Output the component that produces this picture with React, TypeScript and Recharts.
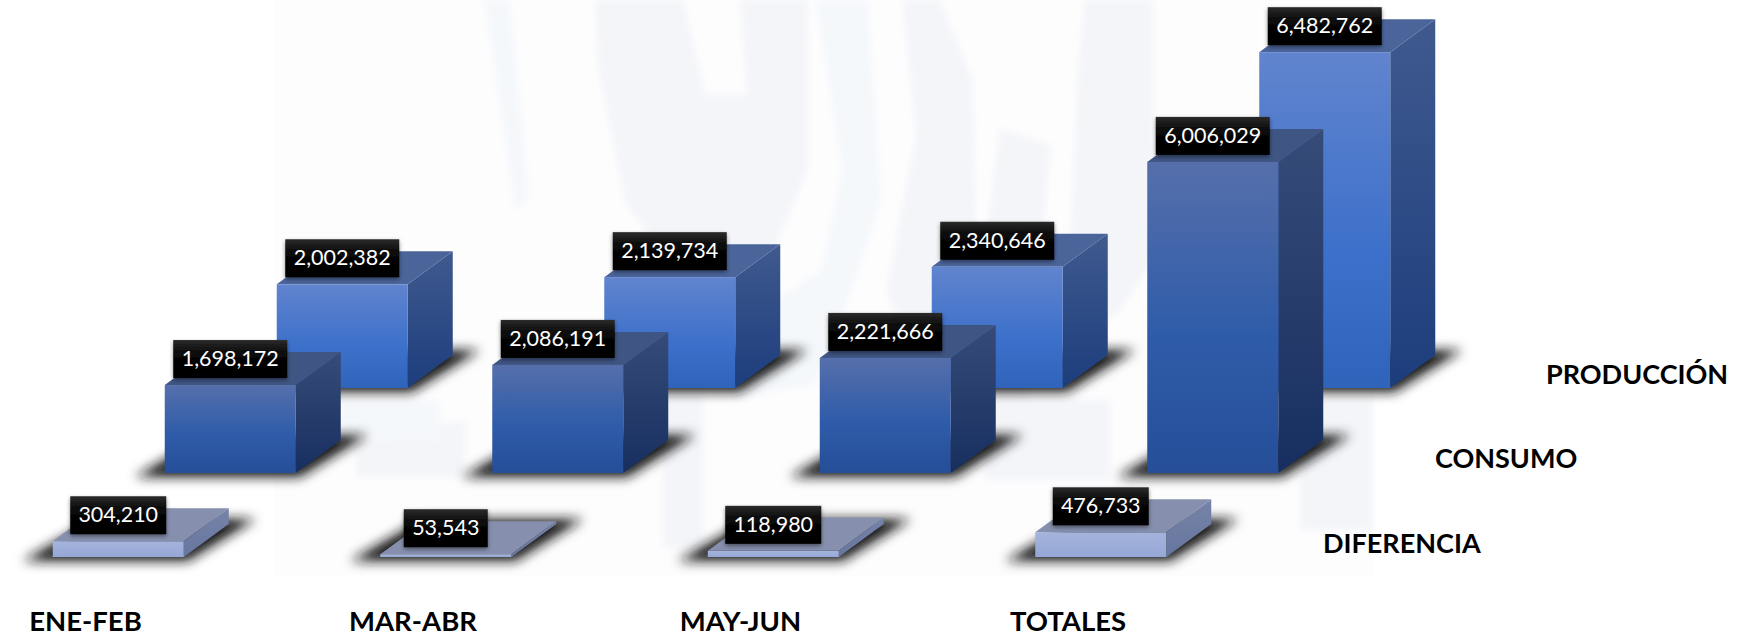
import { BarChart, Bar, XAxis, YAxis, LabelList } from "recharts";

const categories = ["ENE-FEB", "MAR-ABR", "MAY-JUN", "TOTALES"];
const produccion = [2002382, 2139734, 2340646, 6482762];
const consumo = [1698172, 2086191, 2221666, 6006029];
const diferencia = [304210, 53543, 118980, 476733];

const data = categories.map((name, i) => ({
  name,
  produccion: produccion[i],
  consumo: consumo[i],
  diferencia: diferencia[i],
}));

// page is cut at x=0, the chart starts further left so the first row fits
const SHIFT = 60;
const WIDTH = 1747 + SHIFT;
const HEIGHT = 637;
const PLOT_BOTTOM = HEIGHT - 1;
const PX_PER_UNIT = 5.18e-5;
const DEPTH_X = 45;
const DEPTH_Y = 33;
const FONT = "Lato, Carlito, Calibri, sans-serif";

const rows = [
  {
    key: "produccion",
    label: "PRODUCCIÓN",
    base: 388,
    padding: { left: 238.75, right: 258.25 },
    labelX: 1546,
    labelY: 384,
    front: [["0%", "#6184ce"], ["60%", "#3c70ca"], ["100%", "#3064bb"]],
    side: ["#405a8f", "#1c3d7c"],
    top: "#4b659b",
  },
  {
    key: "consumo",
    label: "CONSUMO",
    base: 473,
    padding: { left: 126.75, right: 370.25 },
    labelX: 1435,
    labelY: 468,
    front: [["0%", "#566fab"], ["55%", "#2f5ca9"], ["100%", "#264e99"]],
    side: ["#364b78", "#172f60"],
    top: "#3f5583",
  },
  {
    key: "diferencia",
    label: "DIFERENCIA",
    base: 557,
    padding: { left: 14.75, right: 482.25 },
    labelX: 1323,
    labelY: 553,
    front: [["0%", "#a5b4dc"], ["100%", "#95a7d6"]],
    side: ["#7683a8", "#67769f"],
    top: "#8690ae",
  },
];

// the faint logo behind the chart
function Watermark() {
  return (
    <svg width={1747} height={637} style={{ position: "absolute", left: 0, top: 0 }}>
      <defs>
        <filter id="logoBlur">
          <feGaussianBlur stdDeviation="3" />
        </filter>
      </defs>
      <rect x={274} y={0} width={1100} height={577} fill="#fdfdfe" />
      <g fill="#f4f5f9" filter="url(#logoBlur)">
        <path d="M595 0 L683 0 L706 95 L747 95 L740 0 L808 0 L808 169 L774 250 L713 277 L666 257 L625 203 L598 68 Z" />
        <path d="M902 0 L940 0 L973 81 L977 270 L936 368 L909 345 L886 291 L916 135 Z" />
        <path d="M1000 128 L1051 145 L1028 399 L963 399 L990 203 Z" />
        <path d="M1085 0 L1153 0 L1153 149 L1180 223 L1119 311 L1065 358 L1078 68 Z" />
        <path d="M663 393 L703 393 L703 547 L663 547 Z" />
        <path d="M356 440 L465 420 L465 477 L356 477 Z" />
        <path d="M1300 400 L1372 400 L1372 530 L1300 530 Z" />
        <path d="M985 400 L1110 400 L1110 480 L985 480 Z" />
      </g>
      <g fill="#f5f8fb" filter="url(#logoBlur)">
        <path d="M484 0 L510 0 L530 200 L515 210 Z" />
        <path d="M815 0 L868 0 L882 200 L835 340 L815 385 L735 399 L714 340 L821 270 L842 169 Z" />
        <path d="M340 400 L440 400 L440 440 L340 440 Z" />
      </g>
    </svg>
  );
}

function Box3D(props: any) {
  const { x, y, width, height, rowKey, top, base } = props;
  const r = x + width;
  const b = y + height;
  const shadow = `${x - 30},${base + 4} ${r + 4},${base + 4} ${r + 72},${base - 38} ${x + 43},${base - 38}`;
  return (
    <g>
      <polygon points={shadow} fill="#141414" filter="url(#groundBlur)" />
      <polygon
        points={`${r},${y} ${r + DEPTH_X},${y - DEPTH_Y} ${r + DEPTH_X},${b - DEPTH_Y} ${r},${b}`}
        fill={`url(#side-${rowKey})`}
      />
      <polygon
        points={`${x},${y} ${x + DEPTH_X},${y - DEPTH_Y} ${r + DEPTH_X},${y - DEPTH_Y} ${r},${y}`}
        fill={top}
      />
      <rect x={x} y={y} width={width} height={height} fill={`url(#front-${rowKey})`} />
    </g>
  );
}

function ValueTag(props: any) {
  const { x, y, width, value } = props;
  const text = Number(value).toLocaleString("en-US");
  const w = text.length >= 9 ? 114 : text.length === 7 ? 96 : 84;
  const cx = x + width / 2;
  return (
    <g>
      <rect
        x={cx - w / 2}
        y={y - 45}
        width={w}
        height={38}
        fill="url(#tagFill)"
        filter="url(#tagShadow)"
      />
      <text
        x={cx}
        y={y - 19}
        textAnchor="middle"
        fill="#fff"
        fontFamily={FONT}
        fontSize={21.5}
      >
        {text}
      </text>
    </g>
  );
}

function CategoryTick(props: any) {
  const { x, payload } = props;
  return (
    <text
      x={x - 33}
      y={631}
      textAnchor="middle"
      fill="#000"
      fontFamily={FONT}
      fontWeight={700}
      fontSize={27.5}
    >
      {payload.value}
    </text>
  );
}

export default function App() {
  return (
    <div>
      <Watermark />
      <div style={{ position: "absolute", left: -SHIFT, top: 0 }}>
        <BarChart
          width={WIDTH}
          height={HEIGHT}
          data={data}
          margin={{ top: 0, right: 0, bottom: 0, left: 0 }}
          barCategoryGap={0}
        >
          <defs>
            <filter id="groundBlur" x="-30%" y="-80%" width="160%" height="260%">
              <feGaussianBlur stdDeviation="6" />
            </filter>
            <filter id="tagShadow" x="-10%" y="-20%" width="120%" height="150%">
              <feDropShadow dx="0" dy="2" stdDeviation="2" floodColor="#000" floodOpacity="0.45" />
            </filter>
            <linearGradient id="tagFill" x1="0" y1="0" x2="0" y2="1">
              <stop offset="0%" stopColor="#2b2b2b" />
              <stop offset="35%" stopColor="#080808" />
              <stop offset="100%" stopColor="#000" />
            </linearGradient>
            {rows.map((row) => (
              <g key={row.key}>
                <linearGradient id={`front-${row.key}`} x1="0" y1="0" x2="0" y2="1">
                  {row.front.map(([offset, color]) => (
                    <stop key={offset} offset={offset} stopColor={color} />
                  ))}
                </linearGradient>
                <linearGradient id={`side-${row.key}`} x1="0" y1="0" x2="0" y2="1">
                  <stop offset="0%" stopColor={row.side[0]} />
                  <stop offset="100%" stopColor={row.side[1]} />
                </linearGradient>
              </g>
            ))}
          </defs>

          {rows.map((row) => (
            <XAxis
              key={row.key}
              xAxisId={row.key}
              dataKey="name"
              height={row.key === "diferencia" ? 1 : 0}
              padding={row.padding}
              interval={0}
              axisLine={false}
              tickLine={false}
              tick={row.key === "diferencia" ? <CategoryTick /> : false}
            />
          ))}
          {rows.map((row) => (
            <YAxis
              key={row.key}
              yAxisId={row.key}
              hide
              allowDataOverflow
              domain={[(row.base - PLOT_BOTTOM) / PX_PER_UNIT, row.base / PX_PER_UNIT]}
            />
          ))}

          {rows.map((row) => (
            <Bar
              key={row.key}
              dataKey={row.key}
              xAxisId={row.key}
              yAxisId={row.key}
              barSize={131}
              isAnimationActive={false}
              shape={<Box3D rowKey={row.key} top={row.top} base={row.base} />}
            >
              <LabelList dataKey={row.key} content={<ValueTag />} />
            </Bar>
          ))}

          {rows.map((row) => (
            <text
              key={row.key}
              x={row.labelX + SHIFT}
              y={row.labelY}
              fill="#000"
              fontFamily={FONT}
              fontWeight={700}
              fontSize={27}
            >
              {row.label}
            </text>
          ))}
        </BarChart>
      </div>
    </div>
  );
}
